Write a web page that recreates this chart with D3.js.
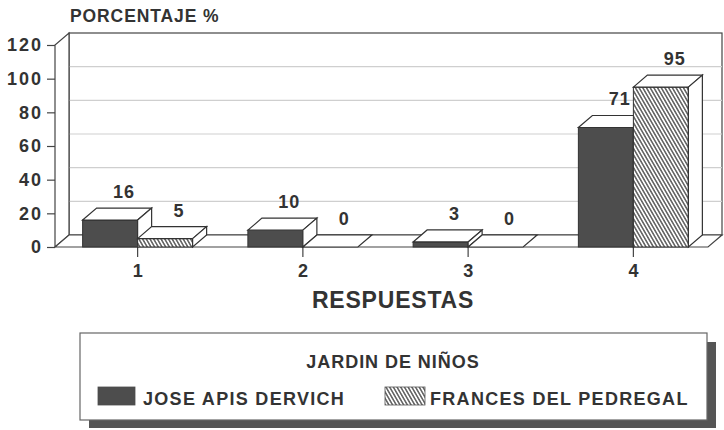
<!DOCTYPE html>
<html>
<head>
<meta charset="utf-8">
<script src="https://cdn.jsdelivr.net/npm/d3@7"></script>
<style>
  body { margin: 0; background: #fff; }
  text { font-family: "Liberation Sans", Arial, sans-serif; font-weight: bold; fill: #333; }
</style>
</head>
<body>
<div id="container"></div>
<script>
// data
const categories = ["1", "2", "3", "4"];
const series = ["JOSE APIS DERVICH", "FRANCES DEL PEDREGAL"];
const joseValues = [16, 10, 3, 71];
const francesValues = [5, 0, 0, 95];
const yTicks = [0, 20, 40, 60, 80, 100, 120];

const w = 724, h = 430;
const DX = 14, DY = -12;   // depth of the 3d look

let viz = d3.select("#container")
  .append("svg")
    .attr("width", w)
    .attr("height", h)
;

let defs = viz.append("defs");
let hatch = defs.append("pattern")
  .attr("id", "hatch")
  .attr("patternUnits", "userSpaceOnUse")
  .attr("width", 3.2)
  .attr("height", 3.2)
  .attr("patternTransform", "rotate(-30)");
hatch.append("rect").attr("width", 3.2).attr("height", 3.2).attr("fill", "#fff");
hatch.append("line")
  .attr("x1", 0.8).attr("y1", 0).attr("x2", 0.8).attr("y2", 3.2)
  .attr("stroke", "#222").attr("stroke-width", 1.1);

let x0 = d3.scaleBand().domain(categories).range([55, 716]);
let x1 = d3.scaleBand().domain(series).range([-55, 55]);
let y = d3.scaleLinear().domain([0, 120]).range([247, 45]);

let fills = { "JOSE APIS DERVICH": "#4d4d4d", "FRANCES DEL PEDREGAL": "url(#hatch)" };

let frontLeft = 55, frontRight = 708;

// back wall
viz.append("rect")
  .attr("x", frontLeft + DX)
  .attr("y", y(120) + DY)
  .attr("width", frontRight - frontLeft)
  .attr("height", y(0) - y(120))
  .attr("fill", "#fff")
  .attr("stroke", "#444")
  .attr("stroke-width", 1.2);

viz.selectAll(".grid")
  .data(yTicks.filter(d => d > 0 && d < 120))
  .enter()
  .append("line")
    .attr("class", "grid")
    .attr("x1", frontLeft + DX)
    .attr("x2", frontRight + DX)
    .attr("y1", d => y(d) + DY)
    .attr("y2", d => y(d) + DY)
    .attr("stroke", "#cfcfcf")
    .attr("stroke-width", 1.2)
;

// left wall
viz.append("polygon")
  .attr("points", [[frontLeft, y(0)], [frontLeft, y(120)], [frontLeft + DX, y(120) + DY], [frontLeft + DX, y(0) + DY]].join(" "))
  .attr("fill", "#fff")
  .attr("stroke", "#444")
  .attr("stroke-width", 1.2);

// floor
viz.append("polygon")
  .attr("points", [[frontLeft, y(0)], [frontLeft + DX, y(0) + DY], [frontRight + DX, y(0) + DY], [frontRight, y(0)]].join(" "))
  .attr("fill", "#fff")
  .attr("stroke", "#444")
  .attr("stroke-width", 1.2);

// axes
let yAxis = viz.append("g")
  .attr("transform", "translate(" + frontLeft + ",0)")
  .call(d3.axisLeft(y).tickValues(yTicks).tickSize(8).tickPadding(4));
yAxis.select(".domain").remove();
yAxis.selectAll("line").attr("stroke", "#444").attr("stroke-width", 1.2);
yAxis.selectAll("text")
  .attr("font-size", 18)
  .attr("letter-spacing", 2)
  .attr("font-family", null)
  .attr("fill", "#333");

let xAxis = viz.append("g")
  .attr("transform", "translate(0," + y(0) + ")")
  .call(d3.axisBottom(x0).tickSize(10).tickPadding(7));
xAxis.select(".domain").remove();
xAxis.selectAll("line").attr("stroke", "#444").attr("stroke-width", 1.2);
xAxis.selectAll("text")
  .attr("font-size", 18)
  .attr("font-family", null)
  .attr("fill", "#333");

// bars, drawn left to right so the front ones cover the sides
let barData = [];
categories.forEach((c, i) => {
  barData.push({ cat: c, s: series[0], v: joseValues[i] });
  barData.push({ cat: c, s: series[1], v: francesValues[i] });
});

function bx(d) { return x0(d.cat) + x0.bandwidth() / 2 + x1(d.s); }
let bw = x1.bandwidth();

let bars = viz.selectAll(".bar")
  .data(barData)
  .enter()
  .append("g")
    .attr("class", "bar")
;

bars.append("rect")
  .attr("x", d => bx(d))
  .attr("y", d => y(d.v))
  .attr("width", bw)
  .attr("height", d => y(0) - y(d.v))
  .attr("fill", d => fills[d.s])
  .attr("stroke", "#333")
  .attr("stroke-width", 1);

// top face
bars.append("polygon")
  .attr("points", d => [
    [bx(d), y(d.v)], [bx(d) + DX, y(d.v) + DY],
    [bx(d) + bw + DX, y(d.v) + DY], [bx(d) + bw, y(d.v)]
  ].join(" "))
  .attr("fill", "#fff")
  .attr("stroke", "#333")
  .attr("stroke-width", 1.2);

// side face
bars.filter(d => d.v > 0).append("polygon")
  .attr("points", d => [
    [bx(d) + bw, y(d.v)], [bx(d) + bw + DX, y(d.v) + DY],
    [bx(d) + bw + DX, y(0) + DY], [bx(d) + bw, y(0)]
  ].join(" "))
  .attr("fill", "#fff")
  .attr("stroke", "#333")
  .attr("stroke-width", 1.2);

viz.selectAll(".valueLabel")
  .data(barData)
  .enter()
  .append("text")
    .attr("class", "valueLabel")
    .text(d => d.v)
    .attr("x", d => bx(d) + bw / 2 + DX)
    .attr("y", d => y(d.v) + DY - 10)
    .attr("text-anchor", "middle")
    .attr("font-size", 18)
    .attr("letter-spacing", 1)
;

// titles
viz.append("text")
  .text("PORCENTAJE %")
  .attr("x", 70)
  .attr("y", 22)
  .attr("font-size", 17.5)
  .attr("letter-spacing", 0.9);

viz.append("text")
  .text("RESPUESTAS")
  .attr("x", 393)
  .attr("y", 308)
  .attr("text-anchor", "middle")
  .attr("font-size", 23)
  .attr("letter-spacing", 0.8);

// legend
let legend = viz.append("g").attr("class", "legend");
legend.append("rect")
  .attr("x", 89).attr("y", 342).attr("width", 627).attr("height", 86)
  .attr("fill", "#555");
legend.append("rect")
  .attr("x", 80).attr("y", 333).attr("width", 627).attr("height", 87)
  .attr("fill", "#fff")
  .attr("stroke", "#666")
  .attr("stroke-width", 1.2);
legend.append("text")
  .text("JARDIN DE NIÑOS")
  .attr("x", 393)
  .attr("y", 368)
  .attr("text-anchor", "middle")
  .attr("font-size", 18)
  .attr("letter-spacing", 0.95);

let legendX = [98, 385];
let items = legend.selectAll(".item")
  .data(series)
  .enter()
  .append("g")
    .attr("class", "item")
    .attr("transform", (d, i) => "translate(" + legendX[i] + ",387)")
;
items.append("rect")
  .attr("width", (d, i) => i == 0 ? 37 : 40)
  .attr("height", 18)
  .attr("fill", d => fills[d])
  .attr("stroke", (d, i) => i == 0 ? "#4d4d4d" : "#555")
  .attr("stroke-width", 0.8);
items.append("text")
  .text(d => d)
  .attr("x", 45)
  .attr("y", 18)
  .attr("font-size", 18)
  .attr("letter-spacing", 1.3);
</script>
</body>
</html>
